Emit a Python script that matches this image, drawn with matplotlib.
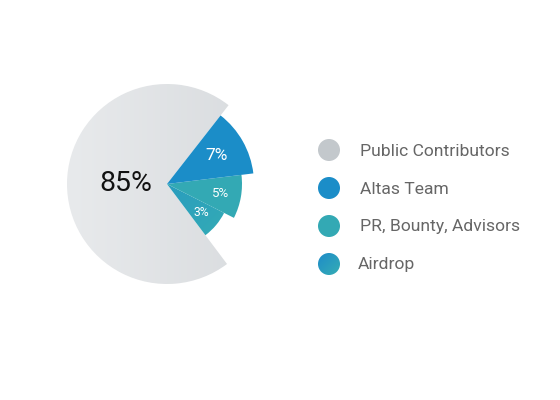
import numpy as np
import matplotlib.pyplot as plt
from matplotlib.patches import Wedge, Circle
from matplotlib.colors import LinearSegmentedColormap

plt.rcParams["font.family"] = ["Roboto", "DejaVu Sans"]

# data
categories = ["Public Contributors", "Altas Team", "PR, Bounty, Advisors", "Airdrop"]
share_labels = ["85%", "7%", "5%", "3%"]
# angular size of each slice as drawn (the picture is not proportional to the labels)
slice_sizes = [70.8, 12.5, 9.4, 7.3]
# relative radius of each slice
slice_radii = [100, 87, 75, 64]

gray_cmap = LinearSegmentedColormap.from_list("gray", ["#e8eaec", "#d8dbde"])
airdrop_cmap = LinearSegmentedColormap.from_list("air", ["#1e8cc9", "#35adb4"])
solid = {1: "#1b8dc8", 2: "#33a9b4"}
legend_colors = ["#c3c8cc", "#1b8dc8", "#33a9b4", None]
label_sizes = [20.5, 12.5, 9.5, 8.7]
label_colors = ["#111111", "white", "white", "white"]
label_pos = [0.41, 0.66, 0.73, 0.70]

fig = plt.figure(figsize=(5.6, 4.0), dpi=100)
ax = fig.add_axes([0, 0, 1, 1])
ax.set_xlim(0, 560)
ax.set_ylim(400, 0)
ax.set_aspect("equal")
ax.axis("off")

cx, cy = 167, 184
start = 52.0
# order counterclockwise: gray, then airdrop, PR, team
order = [0, 3, 2, 1]
theta = start
for i in order:
    span = slice_sizes[i] / sum(slice_sizes) * 360
    t1, t2 = theta, theta + span
    r = slice_radii[i]
    # y axis is inverted, so flip angles
    w = Wedge((cx, cy), r, -t2, -t1, linewidth=0)
    if i == 0 or i == 3:
        cmap = gray_cmap if i == 0 else airdrop_cmap
        w.set_facecolor("none")
        ax.add_patch(w)
        grad = np.linspace(0, 1, 256).reshape(1, -1)
        if i == 3:
            xx, yy = np.meshgrid(np.linspace(0, 1, 64), np.linspace(0, 1, 64))
            grad = (xx + yy) / 2
        im = ax.imshow(grad, cmap=cmap, extent=[cx - r, cx + r, cy + r, cy - r],
                       origin="upper", interpolation="bilinear", zorder=1)
        im.set_clip_path(w)
    else:
        w.set_facecolor(solid[i])
        ax.add_patch(w)
    mid = np.deg2rad((t1 + t2) / 2)
    d = r * label_pos[i]
    ax.text(cx + d * np.cos(mid), cy - d * np.sin(mid), share_labels[i],
            ha="center", va="center", fontsize=label_sizes[i],
            color=label_colors[i], zorder=3)
    theta = t2

# legend
ly = [150, 188, 226, 264]
for k, name in enumerate(categories):
    if legend_colors[k] is None:
        c = Circle((329, ly[k]), 11, facecolor="none", linewidth=0)
        ax.add_patch(c)
        xx, yy = np.meshgrid(np.linspace(0, 1, 32), np.linspace(0, 1, 32))
        im = ax.imshow((xx + yy) / 2, cmap=airdrop_cmap,
                       extent=[318, 340, ly[k] + 11, ly[k] - 11],
                       origin="upper", interpolation="bilinear", zorder=2)
        im.set_clip_path(c)
        tx = 358
    else:
        ax.add_patch(Circle((329, ly[k]), 11, facecolor=legend_colors[k], linewidth=0))
        tx = 360
    ax.text(tx, ly[k] + 1, name, ha="left", va="center", fontsize=12.6, color="#666666")

fig.savefig("out.png", dpi=100)
